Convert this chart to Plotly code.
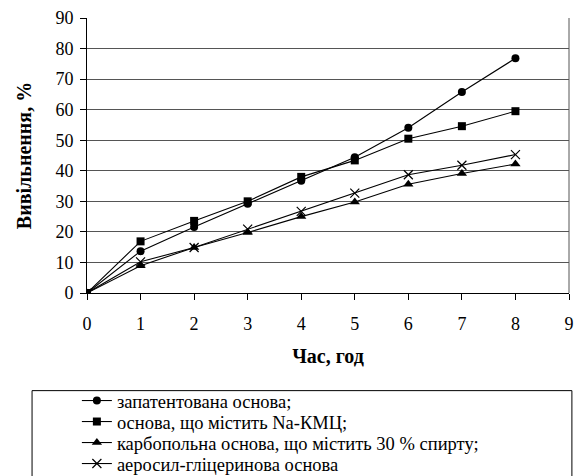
import plotly.graph_objects as go

hours = [0, 1, 2, 3, 4, 5, 6, 7, 8]
patented = [0, 13.7, 21.6, 29.2, 36.7, 44.4, 54.1, 65.8, 76.8]
na_kmc = [0, 16.9, 23.6, 30.0, 38.0, 43.4, 50.5, 54.6, 59.5]
carbopol = [0, 8.9, 14.9, 19.8, 25.0, 29.8, 35.6, 39.1, 42.2]
aerosil = [0, 10.2, 14.9, 20.9, 26.7, 32.7, 38.7, 41.8, 45.3]

names = [
    "запатентована основа;",
    "основа, що містить Na-КМЦ;",
    "карбопольна основа, що містить 30 % спирту;",
    "аеросил-гліцеринова основа",
]
x_ticks = list(range(0, 10))
y_ticks = list(range(0, 91, 10))

FONT = "Liberation Serif"

fig = go.Figure()
series = [patented, na_kmc, carbopol, aerosil]
symbols = ["circle", "square", "triangle-up", "x-thin"]
sizes = [8, 8, 9, 9]
legend_ids = ["legend", "legend2", "legend3", "legend4"]
for name, ys, sym, sz, lg in zip(names, series, symbols, sizes, legend_ids):
    marker = dict(symbol=sym, size=sz, color="black")
    if sym == "x-thin":
        marker["line"] = dict(color="black", width=1.2)
    fig.add_trace(go.Scatter(
        x=hours, y=ys, name=name, mode="lines+markers", legend=lg,
        line=dict(color="black", width=1.1), marker=marker,
    ))

# legend box
fig.add_shape(type="rect", xref="paper", yref="paper",
              x0=-0.114, x1=1.006, y0=-0.70, y1=-0.355,
              line=dict(color="black", width=1), fillcolor="rgba(0,0,0,0)")
# right border
fig.add_shape(type="line", xref="paper", yref="paper",
              x0=1, x1=1, y0=0, y1=1, line=dict(color="#555", width=1))

legend_common = dict(x=-0.021, xanchor="left", yanchor="middle",
                     bgcolor="rgba(0,0,0,0)", borderwidth=0,
                     font=dict(family=FONT, size=18.5, color="black"),
                     itemwidth=30)
legend_rows_px = [401, 422, 443, 464]
legend_y = [(293 - p) / 275 for p in legend_rows_px]

fig.update_layout(
    width=574, height=476,
    margin=dict(l=87, r=5, t=18, b=183, autoexpand=False),
    paper_bgcolor="white", plot_bgcolor="white",
    font=dict(family=FONT, size=18, color="black"),
    showlegend=True,
    legend=dict(legend_common, y=legend_y[0]),
    legend2=dict(legend_common, y=legend_y[1]),
    legend3=dict(legend_common, y=legend_y[2]),
    legend4=dict(legend_common, y=legend_y[3]),
    xaxis=dict(range=[0, 9], tickvals=x_ticks, ticktext=[str(v) for v in x_ticks],
               showgrid=False, zeroline=False, showline=True, linecolor="black",
               linewidth=1, ticks="outside", ticklen=6, tickcolor="black",
               ticklabelstandoff=8,
               title=dict(text="<b>Час, год</b>", standoff=16,
                          font=dict(family=FONT, size=20)),
               tickfont=dict(family=FONT, size=18)),
    yaxis=dict(range=[0, 90], tickvals=y_ticks, ticktext=[str(v) for v in y_ticks],
               showgrid=True, gridcolor="#555", gridwidth=1, zeroline=False,
               showline=True, linecolor="black", linewidth=1, ticks="outside",
               ticklen=6, tickcolor="black", ticklabelstandoff=3,
               title=dict(text="<b>Вивільнення, %</b>", standoff=18,
                          font=dict(family=FONT, size=20)),
               tickfont=dict(family=FONT, size=18)),
)

fig.write_html("out.html")
